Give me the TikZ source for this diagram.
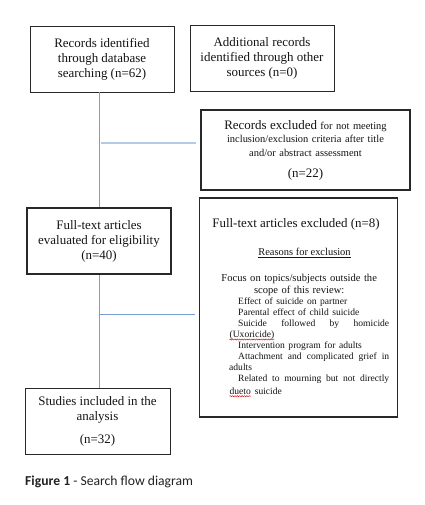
\documentclass[tikz,border=0pt]{standalone}
\usepackage{fontspec}
\setmainfont{Liberation Serif}
\newfontfamily\capfont{Carlito}
\usetikzlibrary{decorations.pathmorphing}
\newcommand\rwave[1]{\tikz[baseline=(w.base)]{\node[inner sep=0pt] (w) {#1};
  \draw[red!85!black, line width=0.45pt, decorate, decoration={snake, amplitude=0.55pt, segment length=2.4pt}]
    ([yshift=-1.8pt]w.base west) -- ([yshift=-1.8pt]w.base east);}}
\newcommand\fsz[2]{\fontsize{#1}{#2}\selectfont}
\definecolor{lineblue}{RGB}{118,160,207}
\definecolor{lineblueb}{RGB}{180,202,230}
\definecolor{boxc}{RGB}{40,40,40}
\definecolor{txt}{RGB}{20,20,20}
\begin{document}
\begin{tikzpicture}[x=1bp,y=-1bp,
  box/.style={draw=boxc, inner sep=0pt, align=center, font=\fsz{13}{15}, text=txt},
  conn/.style={draw=lineblue, line width=1bp},
  connb/.style={draw=lineblueb, line width=2.2bp},
  plain/.style={inner sep=0pt, text=txt}]
\useasboundingbox[fill=white] (0,0) rectangle (424,505);

\node[box, line width=0.8bp, minimum width=144bp, minimum height=66bp] (b1) at (102,59)
  {Records identified\\through database\\searching (n=62)};
\node[box, line width=0.8bp, minimum width=144bp, minimum height=66bp] (b2) at (262,58)
  {Additional records\\identified through other\\sources (n=0)};
\node[box, line width=1.2bp, minimum width=209bp, minimum height=80bp, text width=205bp, font=\fsz{10.5}{13.5}] (b3) at (305.5,150)
  {{\fsz{13}{13.5}Records excluded} for not meeting\\inclusion/exclusion criteria after title\\and/or abstract assessment\\[7.5bp]{\fsz{13}{13.5}(n=22)}};
\node[box, line width=1.3bp, minimum width=198bp, minimum height=219bp] (b4) at (298.5,307.5) {};
\node[box, line width=1.6bp, minimum width=144bp, minimum height=66bp] (b5) at (99,241)
  {Full-text articles\\evaluated for eligibility\\(n=40)};
\node[box, line width=0.9bp, minimum width=145bp, minimum height=66bp] (b6) at (97.5,421)
  {Studies included in the\\analysis\\[8bp](n=32)};

\node[plain, anchor=base, font=\fsz{13}{15}] (b4title) at (296,227) {Full-text articles excluded (n=8)};
\node[plain, anchor=base, font=\fsz{10.5}{13}] (b4why) at (304.5,255.5) {\underline{Reasons for exclusion}};
\node[plain, anchor=north west, text width=160bp, align=left, font=\fsz{10.6}{12.5}] (b4body) at (229,273.5)
  {\makebox[160bp][c]{\hspace*{-20bp}Focus on topics/subjects outside the}\\
   \makebox[160bp][c]{\hspace*{-20bp}scope of this review:}\par
   \fsz{9.6}{11.1}%
   \hspace*{9bp}Effect of suicide on partner\\
   \hspace*{9bp}Parental effect of child suicide\\
   \hspace*{9bp}Suicide\hfill followed\hfill by\hfill homicide\\
   \rwave{(Uxoricide)}\\
   \hspace*{9bp}Intervention program for adults\\
   \hspace*{9bp}Attachment\hfill and\hfill complicated\hfill grief\hfill in\\
   adults\\
   \hspace*{9bp}Related\hfill to\hfill mourning\hfill but\hfill not\hfill directly\\
   \rwave{dueto} suicide};

\draw[conn] (b1.south -| b5.north) -- (b5.north);
\draw[conn] (b5.south) -- (b5.south |- b6.north);
\coordinate (j1) at (101,143);
\coordinate (j2) at (100,314);
\draw[connb, shorten >=4bp] (j1) -- (j1 -| b3.west);
\draw[conn, shorten >=4bp] (j2) -- (j2 -| b4.west);

\node[plain, anchor=west, font=\capfont\fsz{13.7}{15}, text={rgb,255:red,34;green,34;blue,34}] (cap) at (25,482)
  {\textbf{Figure 1} - Search flow diagram};
\end{tikzpicture}
\end{document}
